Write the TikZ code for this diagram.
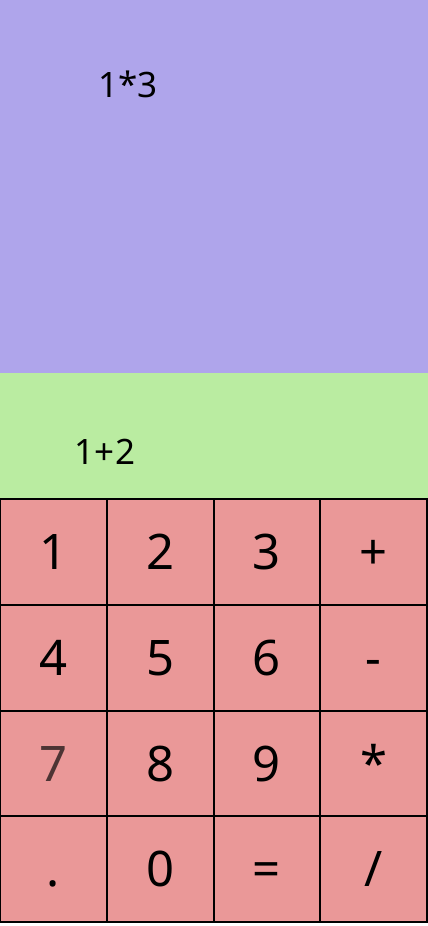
\documentclass[tikz,border=0pt]{standalone}
\usepackage{fontspec}
\setmainfont{Noto Sans}
\definecolor{topbg}{RGB}{175,165,235}
\definecolor{midbg}{RGB}{186,236,161}
\definecolor{keybg}{RGB}{234,152,152}
\definecolor{pressed}{RGB}{77,52,52}
\begin{document}
\begin{tikzpicture}[x=1pt,y=-1pt,
  keybox/.style={draw=black,line width=2pt,fill=keybg,minimum width=106.75pt,minimum height=105.75pt,inner sep=0pt,outer sep=0pt},
  keylabel/.style={anchor=base,font=\fontsize{49}{52}\selectfont,inner sep=0pt},
  display/.style={anchor=base,font=\fontsize{35}{40}\selectfont,inner sep=0pt}]
\useasboundingbox (0,0) rectangle (428,926);
\fill[white] (0,0) rectangle (428,926);
\fill[topbg] (0,0) rectangle (428,373);
\fill[midbg] (0,373) rectangle (428,499);
\node[display] (res) at (128,97) {1*3};
\node[display] (expr) at (105,464) {1+2};
\foreach \r/\a/\b/\c/\d [count=\i from 0] in {0/1/2/3/+,1/4/5/6/-,2/7/8/9/*,3/./0/=//}{
  \foreach \t [count=\j from 0] in {\a,\b,\c,\d}{
    \node[keybox] (k\i\j) at ({53.5+106.75*\j},{552+105.75*\i}) {};
  }
}
\foreach \t [count=\j from 0] in {1,2,3,+}{\node[keylabel] (t0\j) at ({53.5+106.75*\j},{569.5}) {\t};}
\foreach \t [count=\j from 0] in {4,5,6,-}{\node[keylabel] (t1\j) at ({53.5+106.75*\j},{675.25}) {\t};}
\node[keylabel,text=pressed] (t20) at (53.5,781) {7};
\node[keylabel] (t21) at (160.25,781) {8};
\node[keylabel] (t22) at (267,781) {9};
\node[keylabel] (t23) at (373.75,781) {*};
\node[keylabel] (t30) at (53.5,886.75) {.};
\node[keylabel] (t31) at (160.25,886.75) {0};
\node[keylabel] (t32) at (267,886.75) {=};
\node[keylabel] (t33) at (373.75,886.75) {/};
\end{tikzpicture}
\end{document}
